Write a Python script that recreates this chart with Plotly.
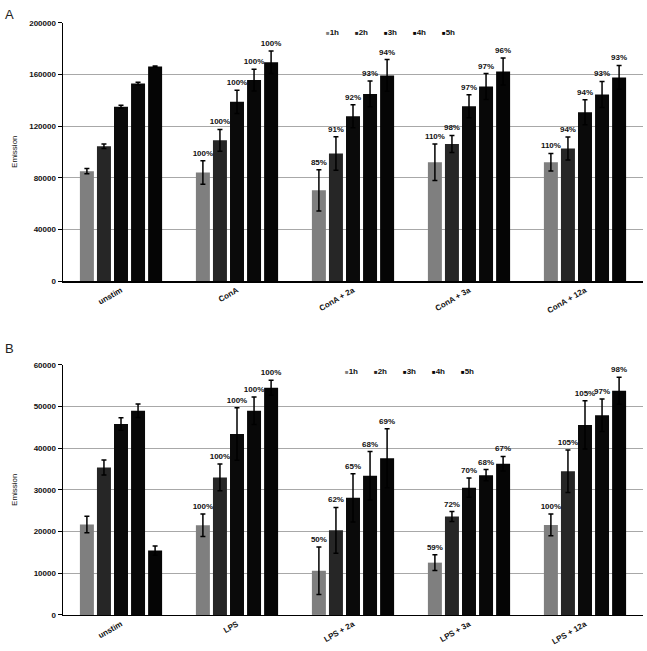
import plotly.graph_objects as go

# ---------------- data ----------------
series = ["1h", "2h", "3h", "4h", "5h"]
colors = ["#7f7f7f", "#262626", "#0a0a0a", "#080808", "#050505"]

categories_a = ["unstim", "ConA", "ConA + 2a", "ConA + 3a", "ConA + 12a"]
a_1h = [85100, 84100, 70300, 92000, 92000]
a_2h = [104400, 109000, 98800, 106200, 102700]
a_3h = [135000, 138800, 127600, 135300, 130700]
a_4h = [152900, 155600, 144900, 150600, 144500]
a_5h = [166100, 169400, 159200, 162300, 157700]
a_1h_err = [2000, 9100, 16000, 14200, 6800]
a_2h_err = [1800, 8400, 13000, 6600, 8900]
a_3h_err = [1200, 9000, 8900, 8900, 9600]
a_4h_err = [1000, 8400, 10000, 10100, 10100]
a_5h_err = [500, 8700, 12300, 10400, 9200]
a_1h_pct = ["", "100%", "85%", "110%", "110%"]
a_2h_pct = ["", "100%", "91%", "98%", "94%"]
a_3h_pct = ["", "100%", "92%", "97%", "94%"]
a_4h_pct = ["", "100%", "93%", "97%", "93%"]
a_5h_pct = ["", "100%", "94%", "96%", "93%"]
a_ticks = [0, 40000, 80000, 120000, 160000, 200000]

categories_b = ["unstim", "LPS", "LPS + 2a", "LPS + 3a", "LPS + 12a"]
b_1h = [21700, 21500, 10600, 12550, 21600]
b_2h = [35400, 33000, 20300, 23600, 34500]
b_3h = [45800, 43400, 28100, 30550, 45600]
b_4h = [49000, 49000, 33400, 33550, 47900]
b_5h = [15450, 54500, 37600, 36300, 53800]
b_1h_err = [2000, 2700, 5700, 1900, 2600]
b_2h_err = [1800, 3200, 5500, 1200, 5100]
b_3h_err = [1500, 6300, 5800, 2300, 5800]
b_4h_err = [1600, 3300, 5800, 1350, 3900]
b_5h_err = [1100, 1800, 7100, 1750, 3250]
b_1h_pct = ["", "100%", "50%", "59%", "100%"]
b_2h_pct = ["", "100%", "62%", "72%", "105%"]
b_3h_pct = ["", "100%", "65%", "70%", "105%"]
b_4h_pct = ["", "100%", "68%", "68%", "97%"]
b_5h_pct = ["", "100%", "69%", "67%", "98%"]
b_ticks = [0, 10000, 20000, 30000, 40000, 50000, 60000]

panel_a = dict(cats=categories_a,
               vals=[a_1h, a_2h, a_3h, a_4h, a_5h],
               errs=[a_1h_err, a_2h_err, a_3h_err, a_4h_err, a_5h_err],
               pcts=[a_1h_pct, a_2h_pct, a_3h_pct, a_4h_pct, a_5h_pct],
               ticks=a_ticks)
panel_b = dict(cats=categories_b,
               vals=[b_1h, b_2h, b_3h, b_4h, b_5h],
               errs=[b_1h_err, b_2h_err, b_3h_err, b_4h_err, b_5h_err],
               pcts=[b_1h_pct, b_2h_pct, b_3h_pct, b_4h_pct, b_5h_pct],
               ticks=b_ticks)

# ---------------- figure ----------------
W, H = 647, 651
FONT = "Arial, Liberation Sans, sans-serif"
TXT = "#111111"
fig = go.Figure()

xdom = [63 / W, 643 / W]
doms = {
    "a": [1 - 281 / H, 1 - 19 / H],
    "b": [1 - 619.5 / H, 1 - 366 / H],
}

def add_panel(p, xa, ya, xo, yo):
    for s, c, v, e in zip(series, colors, p["vals"], p["errs"]):
        fig.add_trace(go.Bar(
            x=p["cats"], y=v, name=s, marker=dict(color=c, line=dict(width=0)),
            error_y=dict(type="data", array=e, color="black", thickness=1.5, width=2.5),
            xaxis=xa, yaxis=ya, showlegend=False))
    # transparent bars reaching the error-bar top carry the percentage labels
    for s, v, e, t in zip(series, p["vals"], p["errs"], p["pcts"]):
        fig.add_trace(go.Bar(
            x=p["cats"], y=[vv + ee for vv, ee in zip(v, e)], name=s,
            marker=dict(color="rgba(0,0,0,0)", line=dict(width=0)),
            text=t, textposition="outside", constraintext="none", cliponaxis=False,
            textfont=dict(family=FONT, size=8, color=TXT, weight="bold"),
            outsidetextfont=dict(family=FONT, size=8, color=TXT, weight="bold"),
            xaxis=xo, yaxis=yo, showlegend=False, hoverinfo="skip"))

add_panel(panel_a, "x", "y", "x3", "y3")
add_panel(panel_b, "x2", "y2", "x4", "y4")

tickfont = dict(family=FONT, size=8, color=TXT, weight="bold")

def yax(dom, ticks, anchor):
    return dict(domain=dom, range=[ticks[0], ticks[-1]], tickvals=ticks,
                tickformat="d",
                showgrid=True, gridcolor="#a8a8a8", gridwidth=1,
                showline=True, linecolor="black", linewidth=1.5,
                ticks="outside", ticklen=4, tickcolor="black",
                tickfont=tickfont, zeroline=False, anchor=anchor, fixedrange=True)

def xax(anchor):
    return dict(domain=xdom, showline=True, linecolor="black", linewidth=1.5,
                tickangle=-30, tickfont=tickfont, ticks="", anchor=anchor,
                showgrid=False, fixedrange=True)

fig.update_layout(
    width=W, height=H,
    margin=dict(l=0, r=0, t=0, b=0),
    paper_bgcolor="white", plot_bgcolor="white",
    barmode="group", bargap=0.265, bargroupgap=0.18,
    showlegend=False,
    xaxis=xax("y"),
    yaxis=yax(doms["a"], a_ticks, "x"),
    xaxis2=xax("y2"),
    yaxis2=yax(doms["b"], b_ticks, "x2"),
    xaxis3=dict(overlaying="x", anchor="y3", visible=False, fixedrange=True),
    yaxis3=dict(overlaying="y", anchor="x3", visible=False,
                range=[a_ticks[0], a_ticks[-1]], fixedrange=True),
    xaxis4=dict(overlaying="x2", anchor="y4", visible=False, fixedrange=True),
    yaxis4=dict(overlaying="y2", anchor="x4", visible=False,
                range=[b_ticks[0], b_ticks[-1]], fixedrange=True),
)

ann = []
# panel letters
ann.append(dict(text="A", x=3 / W, y=1 - 1 / H, xref="paper", yref="paper",
                xanchor="left", yanchor="top", showarrow=False,
                font=dict(family=FONT, size=13, color="#222222")))
ann.append(dict(text="B", x=3 / W, y=1 - 340 / H, xref="paper", yref="paper",
                xanchor="left", yanchor="top", showarrow=False,
                font=dict(family=FONT, size=13, color="#222222")))
# y-axis titles
for dom in (doms["a"], doms["b"]):
    ann.append(dict(text="Emission", x=15 / W, y=(dom[0] + dom[1]) / 2,
                    xref="paper", yref="paper", textangle=-90, showarrow=False,
                    xanchor="center", yanchor="middle",
                    font=dict(family=FONT, size=8, color=TXT)))
# legends
legend_pos = {"a": (324, 29), "b": (343, 373)}
for key, (lx, ly) in legend_pos.items():
    for i, (s, c) in enumerate(zip(series, colors)):
        ann.append(dict(text=f"<span style='color:{c};font-size:6px'>■</span>{s}",
                        x=(lx + i * 29) / W, y=1 - ly / H, xref="paper", yref="paper",
                        xanchor="left", yanchor="middle", showarrow=False,
                        font=dict(family=FONT, size=8, color=TXT, weight="bold")))
fig.update_layout(annotations=ann)

fig.write_html("out.html",
               config={"displayModeBar": False, "staticPlot": True},
               post_script="document.body.style.margin='0';document.body.style.overflow='hidden';")
